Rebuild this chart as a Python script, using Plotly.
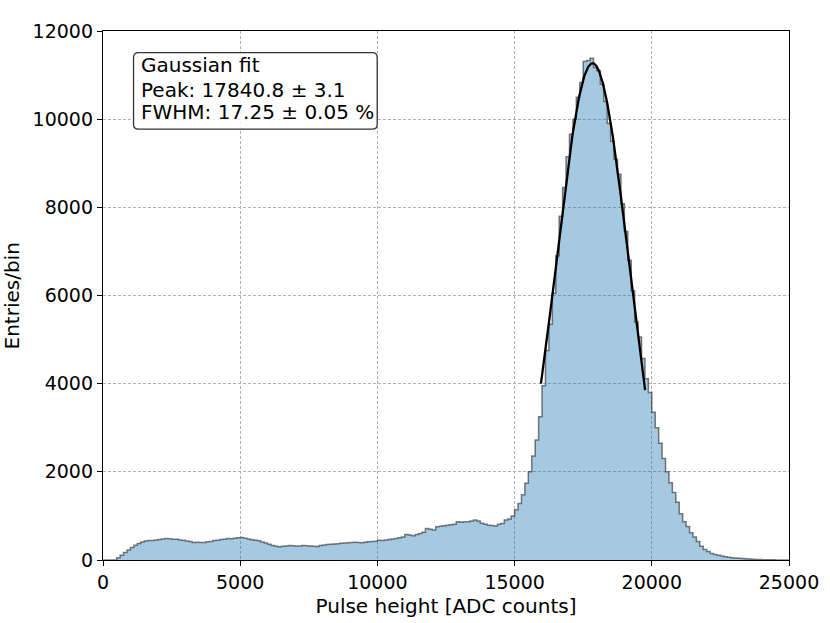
import plotly.graph_objects as go
import numpy as np

# ---------------- data ----------------
bin_start = 0
bin_width = 125
counts = [
    0, 0, 0, 0, 50, 110, 170, 225, 285, 335,
    375, 410, 430, 445, 440, 455, 465, 475, 490, 480,
    470, 470, 455, 450, 430, 420, 395, 405, 398, 395,
    415, 420, 440, 450, 465, 470, 485, 480, 495, 505,
    510, 495, 475, 460, 450, 435, 410, 385, 360, 330,
    310, 300, 310, 320, 330, 325, 315, 320, 330, 325,
    315, 310, 305, 330, 340, 350, 355, 362, 370, 378,
    385, 393, 398, 400, 395, 393, 405, 415, 420, 425,
    450, 445, 455, 465, 475, 490, 505, 520, 580, 565,
    550, 580, 600, 630, 715, 695, 680, 755, 765, 775,
    790, 800, 810, 865, 855, 865, 870, 885, 905, 885,
    835, 810, 790, 785, 770, 810, 830, 905, 930, 1000,
    1140, 1280, 1480, 1740, 2000, 2360, 2720, 3250, 3950, 4750,
    5350, 6050, 6900, 7800, 8450, 9150, 9660, 10000, 10500, 10830,
    11310, 11330, 11380, 11170, 11100, 10790, 10400, 9900, 9500, 9090,
    8750, 8080, 7450, 6800, 6110, 5400, 5060, 4570, 4110, 3800,
    3350, 3000, 2650, 2300, 2000, 1750, 1530, 1310, 1050, 870,
    760, 620, 520, 420, 310, 240, 190, 150, 125, 110,
    90, 75, 62, 52, 45, 40, 35, 30, 24, 18,
    14, 10, 7, 5, 4, 3, 2, 1, 1, 0,
]

# Gaussian fit parameters (from the legend box)
fit_peak = 17840.8
fit_peak_err = 3.1
fit_fwhm_pct = 17.25
fit_fwhm_err = 0.05
fit_amplitude = 11270
fit_range = [15960, 19756]

x_ticks = [0, 5000, 10000, 15000, 20000, 25000]
y_ticks = [0, 2000, 4000, 6000, 8000, 10000, 12000]

# ---------------- figure ----------------
edges = [bin_start + bin_width * i for i in range(len(counts) + 1)]
step_y = counts + [counts[-1]]

fit_sigma = fit_fwhm_pct / 100.0 * fit_peak / 2.3548
fx = np.linspace(fit_range[0], fit_range[1], 300)
fy = fit_amplitude * np.exp(-(fx - fit_peak) ** 2 / (2 * fit_sigma ** 2))

FONT = "DejaVu Sans"
fig = go.Figure()
fig.add_trace(go.Scatter(
    x=edges, y=step_y, mode="lines", line_shape="hv",
    fill="tozeroy", fillcolor="rgba(31,119,180,0.4)",
    line=dict(color="rgba(40,40,40,0.6)", width=1.5),
    hoverinfo="skip", showlegend=False,
))
fig.add_trace(go.Scatter(
    x=fx, y=fy, mode="lines", line=dict(color="black", width=2.3),
    showlegend=False, hoverinfo="skip",
))

# rounded legend box (data coords)
x0, x1, y0, y1 = 1113, 9993, 9774, 11508
rx, ry = 180, 112
path = (f"M {x0+rx},{y0} L {x1-rx},{y0} Q {x1},{y0} {x1},{y0+ry} "
        f"L {x1},{y1-ry} Q {x1},{y1} {x1-rx},{y1} L {x0+rx},{y1} "
        f"Q {x0},{y1} {x0},{y1-ry} L {x0},{y0+ry} Q {x0},{y0} {x0+rx},{y0} Z")
fig.add_shape(type="path", path=path, xref="x", yref="y",
              fillcolor="rgba(255,255,255,0.85)",
              line=dict(color="#333333", width=1.3), layer="above")

lines = [
    "Gaussian fit",
    f"Peak: {fit_peak:.1f} ± {fit_peak_err:.1f}",
    f"FWHM: {fit_fwhm_pct:.2f} ± {fit_fwhm_err:.2f} %",
]
line_y = [11218, 10663, 10165]
for t, yy in zip(lines, line_y):
    fig.add_annotation(x=1318, y=yy, xref="x", yref="y", text=t,
                       showarrow=False, xanchor="left", yanchor="middle",
                       font=dict(family=FONT, size=20, color="black"))

# y-axis title as a rotated annotation for exact placement
fig.add_annotation(x=-0.1327, y=0.5, xref="paper", yref="paper",
                   text="Entries/bin", textangle=-90, showarrow=False,
                   xanchor="center", yanchor="middle",
                   font=dict(family=FONT, size=20, color="black"))

axis_common = dict(
    showline=True, mirror=True, linecolor="black", linewidth=1.4,
    ticks="outside", ticklen=5, tickwidth=1.2, tickcolor="black",
    showgrid=True, gridcolor="#b0b0b0", griddash="3px,2px", gridwidth=1,
    zeroline=False, tickfont=dict(family=FONT, size=19, color="black"),
)
fig.update_xaxes(range=[0, 25000], tickvals=x_ticks,
                 ticktext=[str(v) for v in x_ticks],
                 title=dict(text="Pulse height [ADC counts]", standoff=6,
                            font=dict(family=FONT, size=20, color="black")),
                 **axis_common)
fig.update_yaxes(range=[0, 12000], tickvals=y_ticks,
                 ticktext=[str(v) for v in y_ticks],
                 **axis_common)

fig.update_layout(
    width=830, height=623,
    margin=dict(l=103, r=41, t=31, b=63, autoexpand=False),
    plot_bgcolor="white", paper_bgcolor="white",
    font=dict(family=FONT, size=19, color="black"),
)
fig.write_html("out.html",
               config={"displayModeBar": False},
               post_script="document.body.style.margin='0';")
